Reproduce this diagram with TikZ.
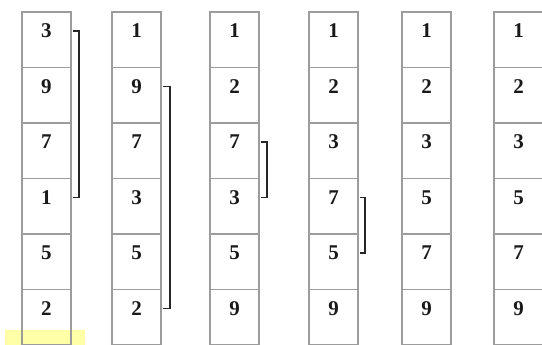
\documentclass[tikz,border=0pt]{standalone}
\usepackage{fontspec}
\setmainfont{Liberation Serif}
\usetikzlibrary{calc}
\definecolor{cellgray}{HTML}{9C9C9C}
\definecolor{hiyellow}{HTML}{FFFFA8}
\begin{document}
\begin{tikzpicture}[x=1pt,y=-1pt,
  cell/.style={draw=cellgray, line width=1.2pt, minimum width=49pt, minimum height=55.5pt,
    inner sep=0pt, outer sep=0pt, anchor=north west},
  num/.style={font=\fontsize{21}{21}\selectfont\bfseries, inner sep=0pt, text=black!90},
  brk/.style={draw=black!85, line width=1.4pt}]
\useasboundingbox (0,0) rectangle (542,345);
\fill[hiyellow] (5,330) rectangle (85,345);
\foreach \c/\x/\vals in {1/22/{3,9,7,1,5,2},2/112/{1,9,7,3,5,2},3/210/{1,2,7,3,5,9},
    4/309/{1,2,3,7,5,9},5/402/{1,2,3,5,7,9},6/494/{1,2,3,5,7,9}}{
  \foreach \v [count=\r] in \vals {
    \node[cell] (c\c\r) at (\x,{12+(\r-1)*55.5}) {};
    \node[num] (n\c\r) at ($(c\c\r.north)+(0,19)$) {\v};
  }
}
\draw[brk] ($(c11.east|-n11)+(2,0)$) -- ++(6,0) |- ($(c14.east|-n14)+(2,0)$);
\draw[brk] ($(c22.east|-n22)+(2,0)$) -- ++(7,0) |- ($(c26.east|-n26)+(2,0)$);
\draw[brk] ($(c33.east|-n33)+(2,0)$) -- ++(6,0) |- ($(c34.east|-n34)+(2,0)$);
\draw[brk] ($(c44.east|-n44)+(2,0)$) -- ++(5,0) |- ($(c45.east|-n45)+(2,0)$);
\end{tikzpicture}
\end{document}
